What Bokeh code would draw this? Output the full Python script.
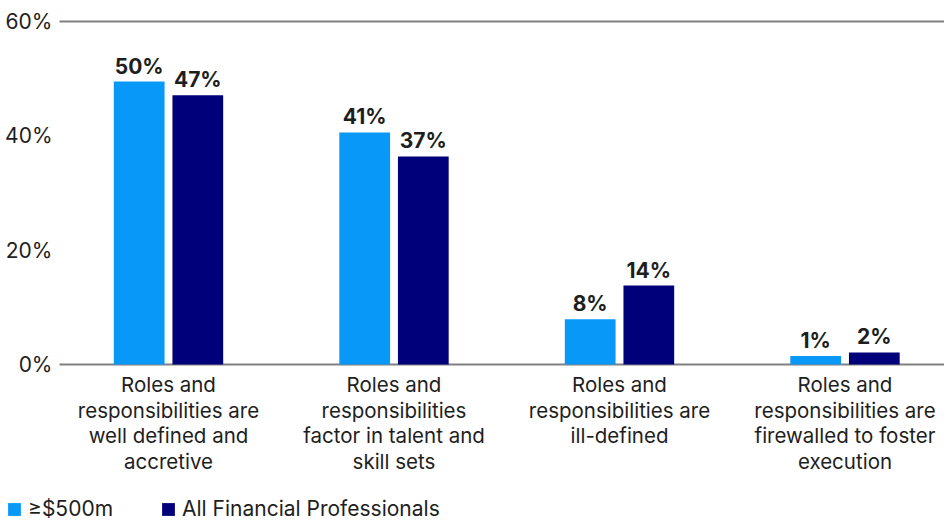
from bokeh.plotting import figure
from bokeh.models import ColumnDataSource, FixedTicker, Legend, LegendItem, LinearAxis
from bokeh.transform import dodge
from bokeh.core.properties import value
from bokeh.embed import file_html
from bokeh.resources import INLINE

categories = [
    "Roles and\nresponsibilities are\nwell defined and\naccretive",
    "Roles and\nresponsibilities\nfactor in talent and\nskill sets",
    "Roles and\nresponsibilities are\nill-defined",
    "Roles and\nresponsibilities are\nfirewalled to foster\nexecution",
]
series_names = ["\u2265$500m", "All Financial Professionals"]
large_values = [49.5, 40.6, 7.9, 1.5]
all_values = [47.1, 36.4, 13.8, 2.1]
large_labels = ["50%", "41%", "8%", "1%"]
all_labels = ["47%", "37%", "14%", "2%"]
y_ticks = [0, 20, 40, 60]
y_tick_labels = ["0%", "20%", "40%", "60%"]
rule_values = [0, 60]

FONT = "Inter"
TXT = "#1e1e1e"
BLUE = "#0898F8"
NAVY = "#00007A"

xs = list(range(len(categories)))
src = ColumnDataSource(dict(
    x=xs, large=large_values, all=all_values,
    large_lab=large_labels, all_lab=all_labels, cat=categories,
    cat_y=[-1.3] * len(xs),
))

px_per_unit = 225.5
x_start = -168 / px_per_unit
x_end = x_start + 944 / px_per_unit
x_axis_at = x_start + 59 / px_per_unit
px_per_pct = 343 / 60
y_start = -157 / px_per_pct
y_end = 60 + 21 / px_per_pct

p = figure(width=944, height=521, output_backend="svg", toolbar_location=None,
           x_range=(x_start, x_end), y_range=(y_start, y_end),
           min_border_left=0, min_border_right=0, min_border_top=0, min_border_bottom=0,
           y_axis_location=None)
p.outline_line_color = None
p.xaxis.visible = False
p.xgrid.grid_line_color = None
p.ygrid.grid_line_color = None

ax = LinearAxis(fixed_location=x_axis_at)
ax.ticker = FixedTicker(ticks=y_ticks)
ax.major_label_overrides = {t: l for t, l in zip(y_ticks, y_tick_labels)}
ax.axis_line_color = None
ax.major_tick_line_color = None
ax.minor_tick_line_color = None
ax.major_tick_in = 0
ax.major_tick_out = 0
ax.major_label_text_font = FONT
ax.major_label_text_font_size = "21px"
ax.major_label_text_color = TXT
ax.major_label_standoff = 7
p.add_layout(ax, "left")

rules = ColumnDataSource(dict(y=rule_values, x0=[x_axis_at] * 2, x1=[x_end] * 2))
p.segment(x0="x0", x1="x1", y0="y", y1="y", source=rules,
          line_color="#808080", line_width=2)

off = 0.13
w = 0.225
r1 = p.vbar(x=dodge("x", -off, range=p.x_range), top="large", width=w, bottom=0,
            source=src, color=BLUE, line_color=None)
r2 = p.vbar(x=dodge("x", off, range=p.x_range), top="all", width=w, bottom=0,
            source=src, color=NAVY, line_color=None)

for col, lab, o in (("large", "large_lab", -off), ("all", "all_lab", off)):
    p.text(x=dodge("x", o, range=p.x_range), y=col, text=lab, source=src,
           text_align="center", text_baseline="bottom", y_offset=-3,
           text_font=value(FONT), text_font_size="21px", text_font_style="bold",
           text_color=TXT)

p.text(x="x", y="cat_y", text="cat", source=src, text_align="center",
       text_baseline="top", text_font=value(FONT), text_font_size="20.5px",
       text_color=TXT, text_line_height=1.03)

legend = Legend(items=[LegendItem(label=series_names[0], renderers=[r1]),
                       LegendItem(label=series_names[1], renderers=[r2])],
                location=(6, 0), orientation="horizontal",
                glyph_width=16, glyph_height=16, label_standoff=6, spacing=47,
                padding=0, margin=0, border_line_color=None,
                background_fill_alpha=0,
                label_text_font=FONT, label_text_font_size="21px",
                label_text_color=TXT)
p.add_layout(legend)

open("out.html", "w").write(file_html(p, INLINE))
